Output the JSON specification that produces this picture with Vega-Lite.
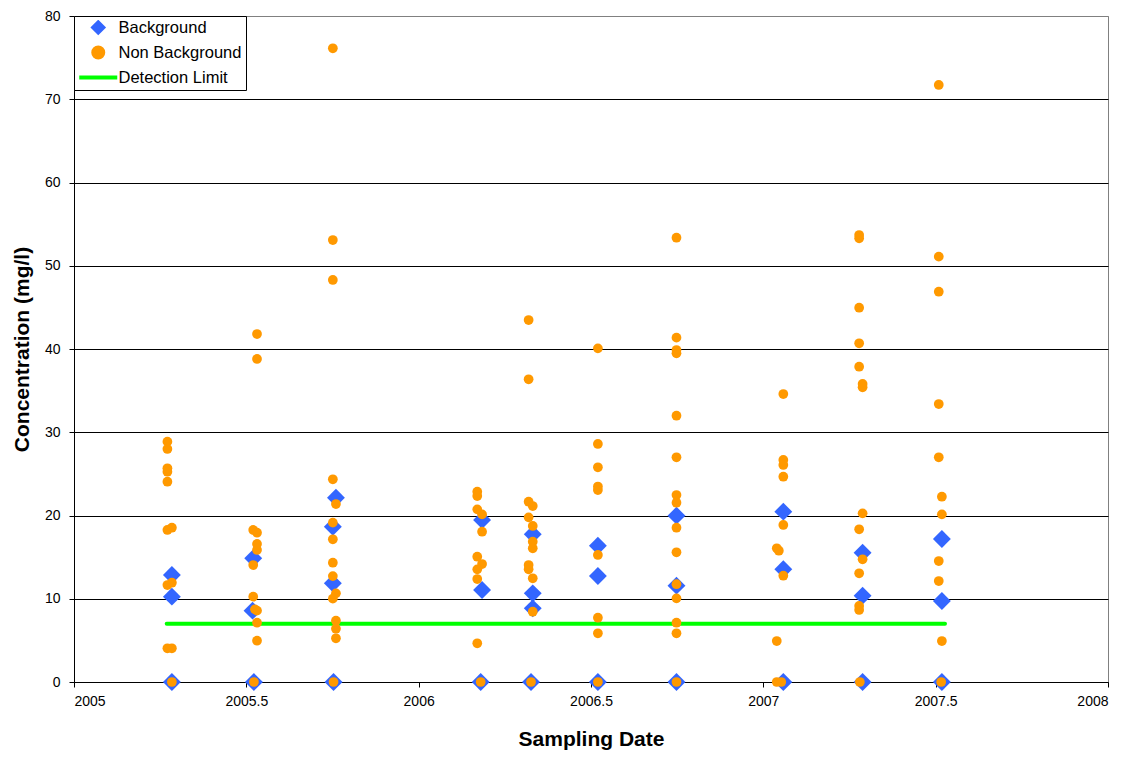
{
  "$schema": "https://vega.github.io/schema/vega-lite/v6.json",
  "width": 1034,
  "height": 666,
  "autosize": {"type": "none"},
  "padding": {"left": 74, "top": 16, "right": 27, "bottom": 75},
  "background": "white",
  "config": {
    "font": "Liberation Sans",
    "view": {"stroke": "#808080", "strokeWidth": 1},
    "axis": {
      "labelFont": "Liberation Sans",
      "titleFont": "Liberation Sans",
      "labelColor": "#000000",
      "titleColor": "#000000",
      "domainColor": "#000000",
      "tickColor": "#000000",
      "labelFontSize": 14,
      "titleFontSize": 21,
      "titleFontWeight": "bold",
      "tickSize": 5
    }
  },
  "datasets": {
    "limit": [
      {"date": 2005.269, "conc": 7, "series": "Detection Limit"},
      {"date": 2007.527, "conc": 7, "series": "Detection Limit"}
    ],
    "pts": [
      {"date": 2005.284, "conc": 12.85, "series": "Background"},
      {"date": 2005.284, "conc": 10.25, "series": "Background"},
      {"date": 2005.284, "conc": 0, "series": "Background"},
      {"date": 2005.520, "conc": 14.86, "series": "Background"},
      {"date": 2005.518, "conc": 8.57, "series": "Background"},
      {"date": 2005.522, "conc": 0, "series": "Background"},
      {"date": 2005.760, "conc": 22.14, "series": "Background"},
      {"date": 2005.751, "conc": 18.65, "series": "Background"},
      {"date": 2005.751, "conc": 11.86, "series": "Background"},
      {"date": 2005.753, "conc": 0, "series": "Background"},
      {"date": 2006.184, "conc": 19.46, "series": "Background"},
      {"date": 2006.184, "conc": 11.05, "series": "Background"},
      {"date": 2006.180, "conc": 0, "series": "Background"},
      {"date": 2006.331, "conc": 17.74, "series": "Background"},
      {"date": 2006.331, "conc": 10.65, "series": "Background"},
      {"date": 2006.331, "conc": 8.85, "series": "Background"},
      {"date": 2006.326, "conc": 0, "series": "Background"},
      {"date": 2006.520, "conc": 16.37, "series": "Background"},
      {"date": 2006.520, "conc": 12.73, "series": "Background"},
      {"date": 2006.520, "conc": 0, "series": "Background"},
      {"date": 2006.748, "conc": 19.98, "series": "Background"},
      {"date": 2006.748, "conc": 11.57, "series": "Background"},
      {"date": 2006.748, "conc": 0, "series": "Background"},
      {"date": 2007.058, "conc": 20.46, "series": "Background"},
      {"date": 2007.058, "conc": 13.54, "series": "Background"},
      {"date": 2007.058, "conc": 0, "series": "Background"},
      {"date": 2007.288, "conc": 15.53, "series": "Background"},
      {"date": 2007.288, "conc": 10.37, "series": "Background"},
      {"date": 2007.288, "conc": 0, "series": "Background"},
      {"date": 2007.518, "conc": 17.18, "series": "Background"},
      {"date": 2007.518, "conc": 9.73, "series": "Background"},
      {"date": 2007.518, "conc": 0, "series": "Background"},

      {"date": 2005.271, "conc": 28.87, "series": "Non Background"},
      {"date": 2005.271, "conc": 27.99, "series": "Non Background"},
      {"date": 2005.271, "conc": 25.67, "series": "Non Background"},
      {"date": 2005.271, "conc": 25.26, "series": "Non Background"},
      {"date": 2005.271, "conc": 24.06, "series": "Non Background"},
      {"date": 2005.271, "conc": 18.26, "series": "Non Background"},
      {"date": 2005.284, "conc": 18.53, "series": "Non Background"},
      {"date": 2005.271, "conc": 11.65, "series": "Non Background"},
      {"date": 2005.284, "conc": 11.93, "series": "Non Background"},
      {"date": 2005.271, "conc": 4.05, "series": "Non Background"},
      {"date": 2005.284, "conc": 4.05, "series": "Non Background"},
      {"date": 2005.284, "conc": 0, "series": "Non Background"},

      {"date": 2005.531, "conc": 41.8, "series": "Non Background"},
      {"date": 2005.531, "conc": 38.8, "series": "Non Background"},
      {"date": 2005.520, "conc": 18.26, "series": "Non Background"},
      {"date": 2005.531, "conc": 17.93, "series": "Non Background"},
      {"date": 2005.531, "conc": 16.58, "series": "Non Background"},
      {"date": 2005.531, "conc": 15.86, "series": "Non Background"},
      {"date": 2005.520, "conc": 14.05, "series": "Non Background"},
      {"date": 2005.520, "conc": 10.25, "series": "Non Background"},
      {"date": 2005.525, "conc": 8.73, "series": "Non Background"},
      {"date": 2005.531, "conc": 8.57, "series": "Non Background"},
      {"date": 2005.531, "conc": 7.12, "series": "Non Background"},
      {"date": 2005.531, "conc": 4.96, "series": "Non Background"},
      {"date": 2005.522, "conc": 0, "series": "Non Background"},

      {"date": 2005.751, "conc": 76.12, "series": "Non Background"},
      {"date": 2005.751, "conc": 53.09, "series": "Non Background"},
      {"date": 2005.751, "conc": 48.29, "series": "Non Background"},
      {"date": 2005.751, "conc": 24.35, "series": "Non Background"},
      {"date": 2005.760, "conc": 21.38, "series": "Non Background"},
      {"date": 2005.751, "conc": 19.14, "series": "Non Background"},
      {"date": 2005.751, "conc": 17.14, "series": "Non Background"},
      {"date": 2005.751, "conc": 14.33, "series": "Non Background"},
      {"date": 2005.751, "conc": 12.72, "series": "Non Background"},
      {"date": 2005.760, "conc": 10.65, "series": "Non Background"},
      {"date": 2005.751, "conc": 10.01, "series": "Non Background"},
      {"date": 2005.760, "conc": 7.36, "series": "Non Background"},
      {"date": 2005.760, "conc": 6.4, "series": "Non Background"},
      {"date": 2005.760, "conc": 5.25, "series": "Non Background"},
      {"date": 2005.753, "conc": 0, "series": "Non Background"},

      {"date": 2006.170, "conc": 22.86, "series": "Non Background"},
      {"date": 2006.170, "conc": 22.34, "series": "Non Background"},
      {"date": 2006.170, "conc": 20.74, "series": "Non Background"},
      {"date": 2006.184, "conc": 20.14, "series": "Non Background"},
      {"date": 2006.184, "conc": 18.05, "series": "Non Background"},
      {"date": 2006.170, "conc": 15.05, "series": "Non Background"},
      {"date": 2006.184, "conc": 14.17, "series": "Non Background"},
      {"date": 2006.170, "conc": 13.53, "series": "Non Background"},
      {"date": 2006.170, "conc": 12.37, "series": "Non Background"},
      {"date": 2006.170, "conc": 4.65, "series": "Non Background"},
      {"date": 2006.180, "conc": 0, "series": "Non Background"},

      {"date": 2006.319, "conc": 43.48, "series": "Non Background"},
      {"date": 2006.319, "conc": 36.36, "series": "Non Background"},
      {"date": 2006.319, "conc": 21.66, "series": "Non Background"},
      {"date": 2006.331, "conc": 21.14, "series": "Non Background"},
      {"date": 2006.319, "conc": 19.78, "series": "Non Background"},
      {"date": 2006.331, "conc": 18.74, "series": "Non Background"},
      {"date": 2006.331, "conc": 16.85, "series": "Non Background"},
      {"date": 2006.331, "conc": 16.06, "series": "Non Background"},
      {"date": 2006.319, "conc": 14.05, "series": "Non Background"},
      {"date": 2006.319, "conc": 13.54, "series": "Non Background"},
      {"date": 2006.331, "conc": 12.46, "series": "Non Background"},
      {"date": 2006.331, "conc": 8.44, "series": "Non Background"},
      {"date": 2006.326, "conc": 0, "series": "Non Background"},

      {"date": 2006.520, "conc": 40.08, "series": "Non Background"},
      {"date": 2006.520, "conc": 28.59, "series": "Non Background"},
      {"date": 2006.520, "conc": 25.79, "series": "Non Background"},
      {"date": 2006.520, "conc": 23.48, "series": "Non Background"},
      {"date": 2006.520, "conc": 23.06, "series": "Non Background"},
      {"date": 2006.520, "conc": 15.26, "series": "Non Background"},
      {"date": 2006.520, "conc": 7.72, "series": "Non Background"},
      {"date": 2006.520, "conc": 5.85, "series": "Non Background"},
      {"date": 2006.520, "conc": 0, "series": "Non Background"},

      {"date": 2006.748, "conc": 53.37, "series": "Non Background"},
      {"date": 2006.748, "conc": 41.36, "series": "Non Background"},
      {"date": 2006.748, "conc": 39.88, "series": "Non Background"},
      {"date": 2006.748, "conc": 39.48, "series": "Non Background"},
      {"date": 2006.748, "conc": 31.99, "series": "Non Background"},
      {"date": 2006.748, "conc": 26.99, "series": "Non Background"},
      {"date": 2006.748, "conc": 22.46, "series": "Non Background"},
      {"date": 2006.748, "conc": 21.54, "series": "Non Background"},
      {"date": 2006.748, "conc": 18.53, "series": "Non Background"},
      {"date": 2006.748, "conc": 15.58, "series": "Non Background"},
      {"date": 2006.748, "conc": 11.75, "series": "Non Background"},
      {"date": 2006.748, "conc": 10.05, "series": "Non Background"},
      {"date": 2006.748, "conc": 7.12, "series": "Non Background"},
      {"date": 2006.748, "conc": 5.85, "series": "Non Background"},
      {"date": 2006.748, "conc": 0, "series": "Non Background"},

      {"date": 2007.058, "conc": 34.59, "series": "Non Background"},
      {"date": 2007.058, "conc": 26.67, "series": "Non Background"},
      {"date": 2007.058, "conc": 26.07, "series": "Non Background"},
      {"date": 2007.058, "conc": 24.66, "series": "Non Background"},
      {"date": 2007.058, "conc": 18.86, "series": "Non Background"},
      {"date": 2007.039, "conc": 16.06, "series": "Non Background"},
      {"date": 2007.045, "conc": 15.77, "series": "Non Background"},
      {"date": 2007.058, "conc": 12.77, "series": "Non Background"},
      {"date": 2007.039, "conc": 4.92, "series": "Non Background"},
      {"date": 2007.039, "conc": 0, "series": "Non Background"},
      {"date": 2007.052, "conc": 0, "series": "Non Background"},

      {"date": 2007.278, "conc": 53.69, "series": "Non Background"},
      {"date": 2007.278, "conc": 53.3, "series": "Non Background"},
      {"date": 2007.278, "conc": 44.96, "series": "Non Background"},
      {"date": 2007.278, "conc": 40.69, "series": "Non Background"},
      {"date": 2007.278, "conc": 37.87, "series": "Non Background"},
      {"date": 2007.288, "conc": 35.8, "series": "Non Background"},
      {"date": 2007.288, "conc": 35.4, "series": "Non Background"},
      {"date": 2007.288, "conc": 20.26, "series": "Non Background"},
      {"date": 2007.278, "conc": 18.34, "series": "Non Background"},
      {"date": 2007.288, "conc": 14.74, "series": "Non Background"},
      {"date": 2007.278, "conc": 13.06, "series": "Non Background"},
      {"date": 2007.278, "conc": 9.13, "series": "Non Background"},
      {"date": 2007.278, "conc": 8.65, "series": "Non Background"},
      {"date": 2007.280, "conc": 0, "series": "Non Background"},

      {"date": 2007.509, "conc": 71.72, "series": "Non Background"},
      {"date": 2007.509, "conc": 51.09, "series": "Non Background"},
      {"date": 2007.509, "conc": 46.88, "series": "Non Background"},
      {"date": 2007.509, "conc": 33.39, "series": "Non Background"},
      {"date": 2007.509, "conc": 26.99, "series": "Non Background"},
      {"date": 2007.518, "conc": 22.26, "series": "Non Background"},
      {"date": 2007.518, "conc": 20.14, "series": "Non Background"},
      {"date": 2007.509, "conc": 14.53, "series": "Non Background"},
      {"date": 2007.509, "conc": 12.13, "series": "Non Background"},
      {"date": 2007.518, "conc": 4.92, "series": "Non Background"},
      {"date": 2007.516, "conc": 0, "series": "Non Background"}
    ]
  },
  "encoding": {
    "x": {
      "field": "date",
      "type": "quantitative",
      "scale": {"domain": [2005, 2008], "nice": false, "zero": false},
      "axis": {
        "title": "Sampling Date",
        "values": [2005, 2005.5, 2006, 2006.5, 2007, 2007.5, 2008],
        "format": "~g",
        "grid": false,
        "labelPadding": 7,
        "titlePadding": 20
      }
    },
    "y": {
      "field": "conc",
      "type": "quantitative",
      "scale": {"domain": [0, 80], "nice": false},
      "axis": {
        "title": "Concentration (mg/l)",
        "values": [0, 10, 20, 30, 40, 50, 60, 70, 80],
        "grid": true,
        "gridColor": {"condition": {"test": "datum.value === 80", "value": "#808080"}, "value": "#000000"},
        "gridOpacity": 1,
        "gridWidth": 1,
        "labelPadding": 9,
        "titlePadding": 12
      }
    },
    "color": {
      "field": "series",
      "type": "nominal",
      "scale": {
        "domain": ["Background", "Non Background", "Detection Limit"],
        "range": ["#3366FF", "#FF9900", "#00FF00"]
      },
      "legend": {
        "title": null,
        "orient": "top-left",
        "offset": 0,
        "padding": 4,
        "fillColor": "white",
        "strokeColor": "#000000",
        "labelFont": "Liberation Sans",
        "labelFontSize": 16.5,
        "labelColor": "#000000",
        "symbolSize": 100,
        "symbolOffset": 12,
        "labelOffset": 12,
        "rowPadding": 8,
        "clipHeight": 15,
        "encode": {
          "symbols": {
            "update": {
              "size": {"signal": "datum.value === 'Detection Limit' ? 1444 : 100"},
              "stroke": {"signal": "datum.value === 'Detection Limit' ? '#00FF00' : 'transparent'"},
              "strokeWidth": {"value": 4},
              "opacity": {"value": 1}
            }
          }
        }
      }
    },
    "shape": {
      "field": "series",
      "type": "nominal",
      "scale": {
        "domain": ["Background", "Non Background", "Detection Limit"],
        "range": ["diamond", "circle", "stroke"]
      }
    }
  },
  "layer": [
    {
      "data": {"name": "limit"},
      "mark": {"type": "line", "strokeWidth": 4, "strokeCap": "round"},
      "encoding": {"shape": {"value": "stroke"}}
    },
    {
      "data": {"name": "pts"},
      "transform": [{"filter": "datum.series === 'Background'"}],
      "mark": {"type": "point", "filled": true, "opacity": 1, "size": 320}
    },
    {
      "data": {"name": "pts"},
      "transform": [{"filter": "datum.series === 'Non Background'"}],
      "mark": {"type": "point", "filled": true, "opacity": 1, "size": 95}
    }
  ]
}
